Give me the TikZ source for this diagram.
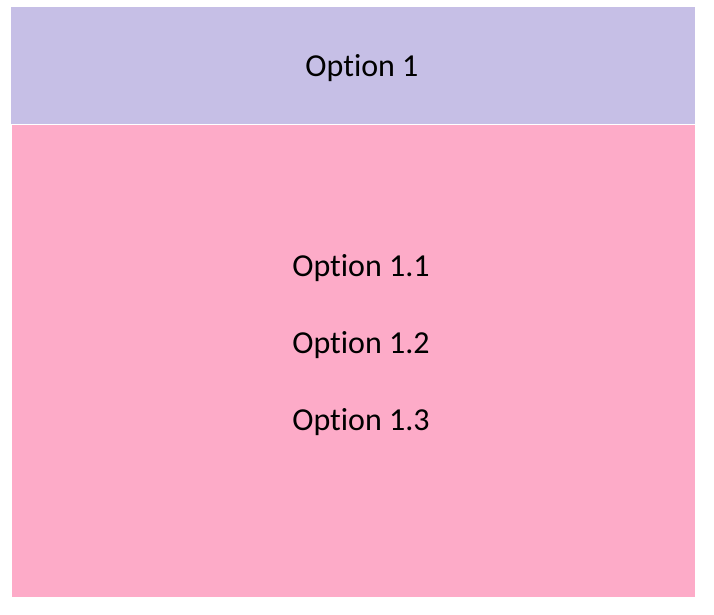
\documentclass[tikz,border=0pt]{standalone}
\usepackage{fontspec}
\setmainfont[Ligatures=NoCommon]{Carlito}
\usepackage{tikz}
\definecolor{headfill}{HTML}{C6BFE6}
\definecolor{bodyfill}{HTML}{FDABC8}
\tikzset{optlabel/.style={font=\fontsize{32}{38}\selectfont, inner sep=0pt}}

\begin{document}
\begin{tikzpicture}[x=1pt,y=-1pt]
% frame
\useasboundingbox (0,0) rectangle (714,614);

% header
\fill[headfill] (11,7) rectangle (695,124);
\node[optlabel] (opt1) at (362,68) {Option 1};

% body
\fill[bodyfill] (12,125) rectangle (695,597);
\node[optlabel] (opt11) at (361,268) {Option 1.1};
\node[optlabel] (opt12) at (361,345) {Option 1.2};
\node[optlabel] (opt13) at (361,422) {Option 1.3};

\end{tikzpicture}
\end{document}
